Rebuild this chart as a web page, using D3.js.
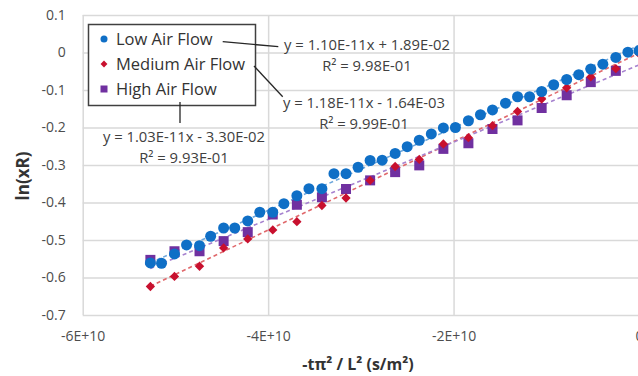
<!DOCTYPE html>
<html>
<head>
<meta charset="utf-8">
<script src="https://cdn.jsdelivr.net/npm/d3@7"></script>
<style>
  body { margin: 0; background: #fff; }
  svg { display: block; font-family: "Open Sans", sans-serif; }
</style>
</head>
<body>
<div id="chart"></div>
<script>
// --- data (x in units of 1E10) ---
const xLow = [-5.27,-5.15,-5.01,-4.88,-4.74,-4.62,-4.48,-4.36,-4.22,-4.09,-3.95,-3.83,-3.69,-3.56,-3.42,-3.29,-3.16,-3.03,-2.90,-2.77,-2.63,-2.50,-2.37,-2.24,-2.11,-1.98,-1.84,-1.71,-1.58,-1.44,-1.31,-1.18,-1.05,-0.92,-0.78,-0.65,-0.52,-0.39,-0.25,-0.12,0];
const yLow = [-0.561,-0.562,-0.537,-0.513,-0.515,-0.490,-0.468,-0.468,-0.449,-0.426,-0.426,-0.403,-0.382,-0.363,-0.363,-0.323,-0.323,-0.306,-0.288,-0.287,-0.269,-0.251,-0.234,-0.217,-0.201,-0.200,-0.182,-0.166,-0.153,-0.135,-0.118,-0.118,-0.104,-0.086,-0.072,-0.059,-0.044,-0.031,-0.013,0.001,0.005];

const xMed = [-5.27,-5.01,-4.74,-4.48,-4.22,-3.95,-3.69,-3.42,-3.16,-2.90,-2.63,-2.37,-2.11,-1.84,-1.58,-1.31,-1.05,-0.78,-0.52,-0.25,0];
const yMed = [-0.624,-0.597,-0.570,-0.521,-0.497,-0.473,-0.451,-0.408,-0.388,-0.341,-0.304,-0.285,-0.244,-0.227,-0.195,-0.157,-0.124,-0.094,-0.065,-0.043,-0.003];

const xHigh = [-5.27,-5.01,-4.74,-4.48,-4.22,-3.95,-3.69,-3.42,-3.16,-2.90,-2.63,-2.37,-2.11,-1.84,-1.58,-1.31,-1.05,-0.78,-0.52,-0.25];
const yHigh = [-0.553,-0.530,-0.530,-0.503,-0.479,-0.432,-0.406,-0.386,-0.364,-0.341,-0.319,-0.301,-0.257,-0.242,-0.204,-0.181,-0.148,-0.114,-0.079,-0.049];

const seriesNames = ["Low Air Flow", "Medium Air Flow", "High Air Flow"];
const slopes = [1.10e-11, 1.18e-11, 1.03e-11];
const intercepts = [1.89e-2, -1.64e-3, -3.30e-2];
const eqLabels = ["y = 1.10E-11x + 1.89E-02", "y = 1.18E-11x - 1.64E-03", "y = 1.03E-11x - 3.30E-02"];
const r2Labels = ["9.98E-01", "9.99E-01", "9.93E-01"];

const xTicks = [-6e10, -4e10, -2e10, 0];
const xTickLabels = ["-6E+10", "-4E+10", "-2E+10", "0"];
const yTicks = [-0.7, -0.6, -0.5, -0.4, -0.3, -0.2, -0.1, 0, 0.1];
const yTickLabels = ["-0.7", "-0.6", "-0.5", "-0.4", "-0.3", "-0.2", "-0.1", "0", "0.1"];

const W = 638, H = 376;
const plot = {left: 82.7, right: 639, top: 15, bottom: 315};

const colors = ["#0F6FC6", "#C8102E", "#7030A0"];
const trendColors = ["#6FA8DC", "#E0686B", "#A682CF"];

const svg = d3.select("#chart").append("svg")
    .attr("width", W)
    .attr("height", H);

const x = d3.scaleLinear().domain([-6e10, 0]).range([plot.left, plot.right]);
const y = d3.scaleLinear().domain([-0.7, 0.1]).range([plot.bottom, plot.top]);

// gridlines + tick labels
const yAxis = svg.append("g")
    .attr("transform", `translate(${plot.left},0)`)
    .call(d3.axisLeft(y).tickValues(yTicks)
        .tickSize(-(plot.right - plot.left))
        .tickPadding(17)
        .tickFormat((d, i) => yTickLabels[i]));
yAxis.select(".domain").remove();
yAxis.selectAll("line").attr("stroke", "#d9d9d9").attr("stroke-width", 1.5);
yAxis.selectAll("text").attr("fill", "#4d4d4d").style("font-size", "14px")
    .style("font-family", "'Open Sans', sans-serif");

const xAxis = svg.append("g")
    .attr("transform", `translate(0,${plot.bottom})`)
    .call(d3.axisBottom(x).tickValues(xTicks)
        .tickSize(-(plot.bottom - plot.top))
        .tickPadding(16)
        .tickFormat((d, i) => xTickLabels[i]));
xAxis.select(".domain").remove();
xAxis.selectAll("line").attr("stroke", "#d9d9d9").attr("stroke-width", 1.5);
xAxis.selectAll("text").attr("fill", "#4d4d4d").style("font-size", "14px")
    .style("font-family", "'Open Sans', sans-serif");

// axis titles
svg.append("text")
    .attr("x", 358).attr("y", 370)
    .attr("text-anchor", "middle")
    .style("font-size", "16px").style("font-weight", "bold").attr("fill", "#333")
    .text("-tπ² / L² (s/m²)");
svg.append("text")
    .attr("transform", "translate(29,176) rotate(-90)")
    .attr("text-anchor", "middle")
    .style("font-size", "17px").style("font-weight", "bold").attr("fill", "#333")
    .text("ln(xR)");

// trendlines
const trendX = [-5.27e10, 0];
const trendG = svg.append("g");
slopes.forEach((m, i) => {
    trendG.append("line")
        .attr("x1", x(trendX[0])).attr("y1", y(m * trendX[0] + intercepts[i]))
        .attr("x2", x(trendX[1])).attr("y2", y(m * trendX[1] + intercepts[i]))
        .attr("stroke", trendColors[i])
        .attr("stroke-width", 1.6)
        .attr("stroke-dasharray", "4,3");
});

// markers
const toPts = (xs, ys) => xs.map((v, i) => ({x: v * 1e10, y: ys[i]}));

svg.append("g").selectAll("rect")
    .data(toPts(xHigh, yHigh))
    .join("rect")
    .attr("x", d => x(d.x) - 5).attr("y", d => y(d.y) - 5)
    .attr("width", 10).attr("height", 10)
    .attr("fill", colors[2]);

svg.append("g").selectAll("path")
    .data(toPts(xMed, yMed))
    .join("path")
    .attr("d", d3.symbol(d3.symbolDiamond2, 55))
    .attr("transform", d => `translate(${x(d.x)},${y(d.y)})`)
    .attr("fill", colors[1]);

svg.append("g").selectAll("circle")
    .data(toPts(xLow, yLow))
    .join("circle")
    .attr("cx", d => x(d.x)).attr("cy", d => y(d.y))
    .attr("r", 5.5)
    .attr("fill", colors[0]);

// legend
const legend = svg.append("g");
legend.append("rect")
    .attr("x", 88.5).attr("y", 24.5).attr("width", 167).attr("height", 81)
    .attr("fill", "#fff").attr("stroke", "#404040").attr("stroke-width", 1.5);
const rowY = [39, 64, 89];
legend.append("circle").attr("cx", 104).attr("cy", rowY[0]).attr("r", 3.5).attr("fill", colors[0]);
legend.append("path").attr("d", d3.symbol(d3.symbolDiamond2, 30))
    .attr("transform", `translate(104,${rowY[1]})`).attr("fill", colors[1]);
legend.append("rect").attr("x", 100.5).attr("y", rowY[2] - 3.5).attr("width", 7).attr("height", 7).attr("fill", colors[2]);
legend.selectAll("text.leg")
    .data(seriesNames)
    .join("text")
    .attr("class", "leg")
    .attr("x", 116).attr("y", (d, i) => rowY[i])
    .attr("dy", "0.35em")
    .style("font-size", "16.5px").attr("fill", "#333")
    .text(d => d);

// equation labels and leader lines
const eqPos = [[367, 45, 66], [364, 103, 124], [184, 137, 158]];
eqLabels.forEach((t, i) => {
    svg.append("text")
        .attr("x", eqPos[i][0]).attr("y", eqPos[i][1]).attr("dy", "0.35em")
        .attr("text-anchor", "middle")
        .style("font-size", "14.8px").attr("fill", "#404040")
        .text(t);
    svg.append("text")
        .attr("x", eqPos[i][0]).attr("y", eqPos[i][2]).attr("dy", "0.35em")
        .attr("text-anchor", "middle")
        .style("font-size", "14.8px").attr("fill", "#404040")
        .text("R² = " + r2Labels[i]);
});

const leaders = [[222.7, 41.7, 278.3, 46.7], [254, 66, 282.7, 96.7], [180, 102, 180, 123]];
leaders.forEach(l => {
    svg.append("line")
        .attr("x1", l[0]).attr("y1", l[1]).attr("x2", l[2]).attr("y2", l[3])
        .attr("stroke", "#262626").attr("stroke-width", 1.3);
});
</script>
</body>
</html>
